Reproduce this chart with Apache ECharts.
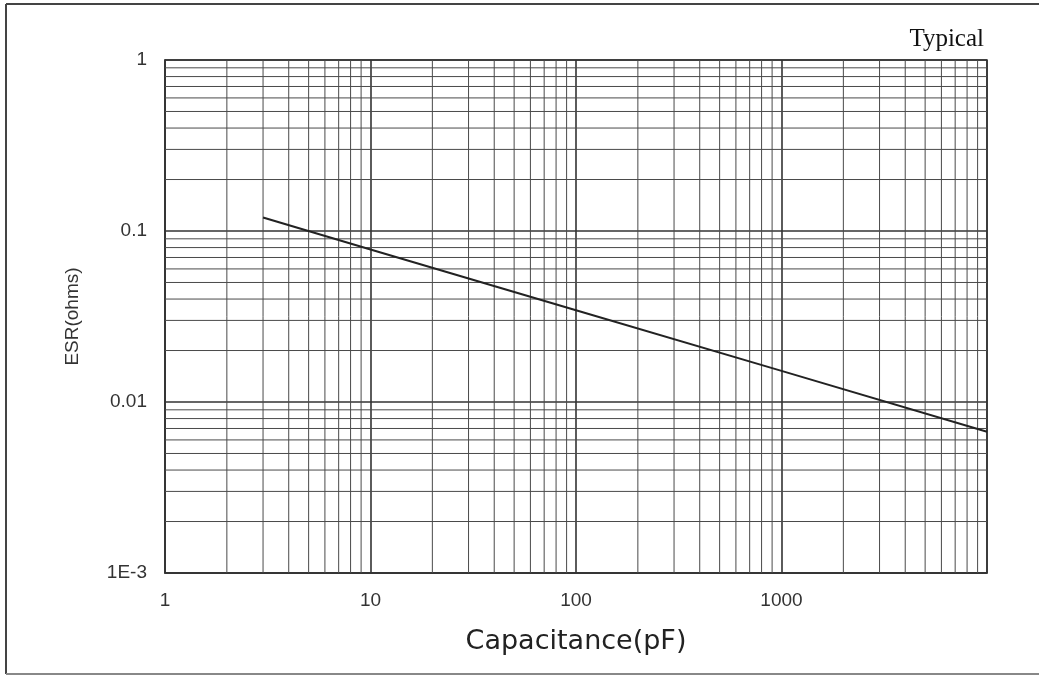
<!DOCTYPE html>
<html>
<head>
<meta charset="utf-8">
<script src="https://cdn.jsdelivr.net/npm/echarts@6/dist/echarts.min.js"></script>
<style>
html,body{margin:0;padding:0;background:#fff;}
#chart{width:1039px;height:675px;}
</style>
</head>
<body>
<div id="chart"></div>
<script>
// Data (log-log, straight line)
const capacitance = [3, 10, 100, 1000, 10000];
const esr = [0.12, 0.078, 0.0344, 0.0152, 0.0067];

const xTickLabels = {0: '1', 1: '10', 2: '100', 3: '1000', 4: ''};
const yTickLabels = {0: '1', '-1': '0.1', '-2': '0.01', '-3': '1E-3'};

const xRange = [1, 10000];
const yRange = [0.001, 1];
const xDecades = [1, 10, 100, 1000];
const yDecades = [0.001, 0.01, 0.1];
const minorMultipliers = [2, 3, 4, 5, 6, 7, 8, 9];

const xMinor = [];
xDecades.forEach(d => minorMultipliers.forEach(m => xMinor.push(d * m)));
const yMinor = [];
yDecades.forEach(d => minorMultipliers.forEach(m => yMinor.push(d * m)));

const chart = echarts.init(document.getElementById('chart'), null, {renderer: 'canvas'});

const minorStyle = {color: '#4a4a4a', width: 1, type: 'solid'};

const gridSeries = [];
xMinor.forEach(v => gridSeries.push({
  type: 'line', data: [[v, yRange[0]], [v, yRange[1]]], showSymbol: false, silent: true,
  lineStyle: minorStyle, z: 1, tooltip: {show: false}
}));
yMinor.forEach(v => gridSeries.push({
  type: 'line', data: [[xRange[0], v], [xRange[1], v]], showSymbol: false, silent: true,
  lineStyle: minorStyle, z: 1, tooltip: {show: false}
}));

chart.setOption({
  animation: false,
  backgroundColor: '#fff',
  grid: {
    left: 165, right: 52, top: 60, bottom: 102,
    show: true, borderColor: '#333', borderWidth: 1.5, backgroundColor: 'transparent'
  },
  xAxis: {
    type: 'log', logBase: 10, min: xRange[0], max: xRange[1],
    name: 'Capacitance(pF)', nameLocation: 'middle', nameGap: 55,
    nameTextStyle: {fontFamily: 'DejaVu Sans', fontSize: 27, color: '#222'},
    axisLine: {show: true, lineStyle: {color: '#333', width: 1.5}},
    axisTick: {show: false},
    axisLabel: {
      margin: 18, fontFamily: 'Liberation Sans', fontSize: 19, color: '#333',
      formatter: v => { const k = Math.round(Math.log10(v)); return xTickLabels[k] !== undefined ? xTickLabels[k] : ''; }
    },
    splitLine: {show: true, lineStyle: {color: '#333', width: 1.6}},
    minorTick: {show: false}, minorSplitLine: {show: false}
  },
  yAxis: {
    type: 'log', logBase: 10, min: yRange[0], max: yRange[1],
    name: 'ESR(ohms)', nameLocation: 'middle', nameGap: 83, nameRotate: 90,
    nameTextStyle: {fontFamily: 'Liberation Sans', fontSize: 19, color: '#333'},
    axisLine: {show: true, lineStyle: {color: '#333', width: 1.5}},
    axisTick: {show: false},
    axisLabel: {
      margin: 18, fontFamily: 'Liberation Sans', fontSize: 19, color: '#333',
      formatter: v => { const k = Math.round(Math.log10(v)); return yTickLabels[k] !== undefined ? yTickLabels[k] : ''; }
    },
    splitLine: {show: true, lineStyle: {color: '#333', width: 1.6}},
    minorTick: {show: false}, minorSplitLine: {show: false}
  },
  graphic: [
    {type: 'line', shape: {x1: 6, y1: 4, x2: 1039, y2: 4}, style: {stroke: '#444', lineWidth: 2}, silent: true},
    {type: 'line', shape: {x1: 6, y1: 4, x2: 6, y2: 674}, style: {stroke: '#444', lineWidth: 2}, silent: true},
    {type: 'line', shape: {x1: 6, y1: 674, x2: 1039, y2: 674}, style: {stroke: '#888', lineWidth: 2}, silent: true},
    {type: 'text', right: 55, top: 27, style: {text: 'Typical', font: '25px "Liberation Serif"', fill: '#111'}, silent: true}
  ],
  series: gridSeries.concat([
    {
      type: 'line',
      name: 'ESR',
      data: capacitance.map((c, i) => [c, esr[i]]),
      showSymbol: false,
      lineStyle: {color: '#222', width: 2},
      z: 5
    }
  ])
});
</script>
</body>
</html>
